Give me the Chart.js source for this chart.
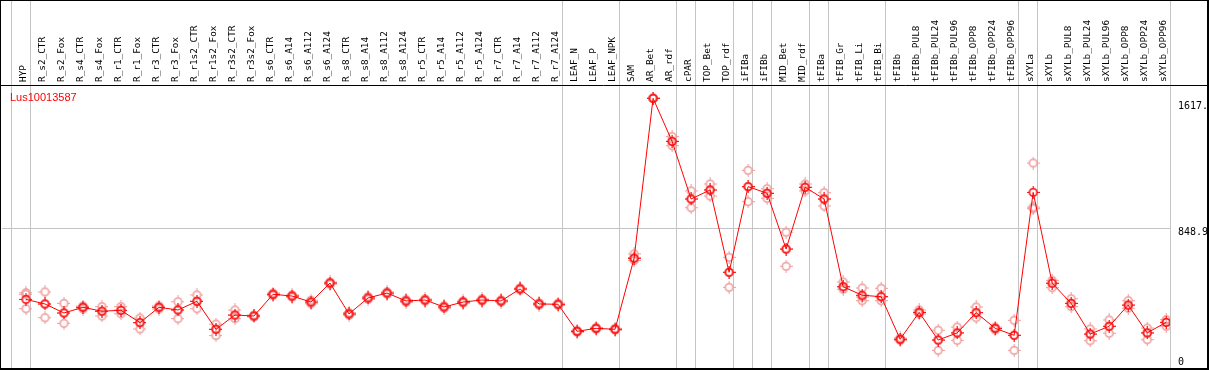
<!DOCTYPE html>
<html>
<head>
<meta charset="utf-8">
<title>Lus10013587</title>
<script src="https://cdn.jsdelivr.net/npm/chart.js@4.4.0/dist/chart.umd.min.js"></script>
<style>
    html, body { margin: 0; padding: 0; background: #fff; }
    canvas { display: block; }
</style>
</head>
<body>
<canvas id="grafica" width="1209" height="370"></canvas>
<script>
const categories = [
    'HYP', 'R_s2_CTR', 'R_s2_Fox', 'R_s4_CTR', 'R_s4_Fox', 'R_r1_CTR', 'R_r1_Fox', 'R_r3_CTR', 'R_r3_Fox',
    'R_r1s2_CTR', 'R_r1s2_Fox', 'R_r3s2_CTR', 'R_r3s2_Fox', 'R_s6_CTR', 'R_s6_A14', 'R_s6_A112', 'R_s6_A124',
    'R_s8_CTR', 'R_s8_A14', 'R_s8_A112', 'R_s8_A124', 'R_r5_CTR', 'R_r5_A14', 'R_r5_A112', 'R_r5_A124',
    'R_r7_CTR', 'R_r7_A14', 'R_r7_A112', 'R_r7_A124', 'LEAF_N', 'LEAF_P', 'LEAF_NPK', 'SAM', 'AR_Bet', 'AR_rdf',
    'cPAR', 'TOP_Bet', 'TOP_rdf', 'iFIBa', 'iFIBb', 'MID_Bet', 'MID_rdf', 'tFIBa', 'tFIB_Gr', 'tFIB_Li', 'tFIB_Bi',
    'tFIBb', 'tFIBb_PUL8', 'tFIBb_PUL24', 'tFIBb_PUL96', 'tFIBb_OPP8', 'tFIBb_OPP24', 'tFIBb_OPP96',
    'sXYLa', 'sXYLb', 'sXYLb_PUL8', 'sXYLb_PUL24', 'sXYLb_PUL96', 'sXYLb_OPP8', 'sXYLb_OPP24', 'sXYLb_OPP96'
];

// mean expression (line) and the three replicates (pale circles)
const meanValues = [
    400, 371, 314, 350, 325, 331, 253, 350, 333, 388, 211, 301, 295, 432, 421, 383, 503,
    308, 409, 440, 390, 396, 352, 383, 396, 390, 466, 371, 369, 198, 217, 211, 659, 1670, 1398,
    1034, 1091, 571, 1112, 1070, 718, 1108, 1034, 480, 426, 417,
    148, 318, 143, 188, 316, 217, 173,
    1076, 502, 375, 181, 230, 364, 188, 255
];
const rep1 = [
    442, 447, 375, 358, 354, 354, 282, 358, 385, 428, 244, 333, 301, 440, 428, 395, 510,
    316, 418, 447, 398, 403, 360, 390, 403, 397, 472, 378, 376, 204, 223, 217, 687, 1670, 1428,
    1085, 1129, 666, 1215, 1099, 824, 1129, 1074, 510, 472, 470,
    156, 333, 205, 225, 352, 225, 268,
    1261, 520, 404, 213, 270, 392, 219, 272
];
const rep2 = [
    432, 371, 314, 350, 325, 331, 253, 350, 333, 388, 211, 301, 295, 432, 421, 383, 503,
    308, 409, 440, 390, 396, 352, 383, 396, 390, 466, 371, 369, 198, 217, 211, 665, 1670, 1398,
    1034, 1091, 571, 1112, 1070, 718, 1108, 1034, 480, 415, 417,
    148, 318, 143, 188, 316, 217, 173,
    983, 502, 375, 181, 230, 364, 188, 255
];
const rep3 = [
    341, 284, 249, 339, 295, 309, 213, 339, 278, 341, 171, 278, 289, 424, 414, 372, 496,
    300, 400, 433, 382, 389, 344, 376, 389, 383, 460, 364, 362, 192, 211, 205, 646, 1670, 1371,
    979, 1053, 476, 1017, 1038, 609, 1085, 990, 464, 392, 392,
    140, 308, 78, 141, 284, 207, 78,
    973, 474, 354, 139, 186, 344, 145, 230
];

// grey separators are drawn just after these category indexes
const groupEnds = [-1, 0, 28, 31, 34, 35, 37, 38, 39, 41, 42, 45, 52, 53, 60];

const yTickValues = [0, 848.9, 1617];
const yTickLabels = ['0', '848.9', '1617.'];
const title = 'Lus10013587';

document.addEventListener('DOMContentLoaded', () => {

    function makeMarker(color) {
        const c = document.createElement('canvas');
        c.width = 13;
        c.height = 13;
        const g = c.getContext('2d');
        g.strokeStyle = color;
        g.lineWidth = 1.5;
        g.beginPath();
        g.arc(6.5, 6.5, 3.8, 0, Math.PI * 2);
        g.stroke();
        g.lineWidth = 1;
        g.beginPath();
        g.moveTo(6.5, 0); g.lineTo(6.5, 2);
        g.moveTo(6.5, 11); g.lineTo(6.5, 13);
        g.moveTo(0, 6.5); g.lineTo(2, 6.5);
        g.moveTo(11, 6.5); g.lineTo(13, 6.5);
        g.stroke();
        return c;
    }

    // no auto padding around the scales, the frame is fixed
    function noPad(s) {
        s.paddingTop = 0;
        s.paddingBottom = 0;
        s.paddingLeft = 0;
        s.paddingRight = 0;
    }

    const meanPoints = meanValues.map((v, i) => ({ x: i, y: v }));
    const repPoints = [];
    [rep1, rep2, rep3].forEach(rep => {
        rep.forEach((v, i) => repPoints.push({ x: i, y: v }));
    });

    const decor = {
        id: 'decor',
        beforeDatasetsDraw(chart) {
            const ctx = chart.ctx;
            const xs = chart.scales.x;
            const area = chart.chartArea;
            ctx.save();
            ctx.strokeStyle = '#c4c4c4';
            ctx.lineWidth = 1;
            groupEnds.forEach(i => {
                const px = Math.round(xs.getPixelForValue(i + 0.2)) + 0.5;
                ctx.beginPath();
                ctx.moveTo(px, 0);
                ctx.lineTo(px, area.bottom);
                ctx.stroke();
            });
            ctx.restore();
        },
        afterDraw(chart) {
            const ctx = chart.ctx;
            const area = chart.chartArea;
            ctx.save();
            ctx.strokeStyle = '#000';
            ctx.lineWidth = 1;
            ctx.beginPath();
            ctx.moveTo(0, area.top + 0.5);
            ctx.lineTo(chart.width - 2, area.top + 0.5);
            ctx.stroke();
            ctx.lineWidth = 2;
            ctx.strokeRect(0, 0, chart.width - 1, area.bottom + 1);
            ctx.fillStyle = '#ff0000';
            ctx.font = '11px "Liberation Sans"';
            ctx.textBaseline = 'alphabetic';
            ctx.fillText(title, area.left + 8, area.top + 16);
            ctx.restore();
        }
    };

    new Chart(document.getElementById('grafica'), {
        type: 'scatter',
        data: {
            datasets: [{
                data: meanPoints,
                showLine: true,
                borderColor: '#ff0000',
                borderWidth: 1,
                tension: 0,
                pointStyle: makeMarker('#ff0000'),
                pointRadius: 5
            }, {
                data: repPoints,
                showLine: false,
                pointStyle: makeMarker('#ee9a9a'),
                pointRadius: 5
            }]
        },
        options: {
            responsive: false,
            animation: false,
            devicePixelRatio: 1,
            layout: { autoPadding: false, padding: { left: 2, right: 2, top: 0, bottom: 2 } },
            plugins: { legend: { display: false }, tooltip: { enabled: false } },
            scales: {
                x: {
                    type: 'linear',
                    position: 'top',
                    min: -1.26,
                    max: 60.2,
                    afterBuildTicks: s => { s.ticks = categories.map((c, i) => ({ value: i })); },
                    afterFit: s => { s.height = 85; noPad(s); },
                    grid: { display: false, drawTicks: false },
                    border: { display: false },
                    ticks: {
                        autoSkip: false,
                        minRotation: 90,
                        maxRotation: 90,
                        padding: 3,
                        labelOffset: 9,
                        color: '#000',
                        font: { family: '"DejaVu Sans Mono"', size: 9.4 },
                        callback: v => categories[v]
                    }
                },
                y: {
                    position: 'right',
                    min: -33.5,
                    max: 1754,
                    afterBuildTicks: s => { s.ticks = yTickValues.map(v => ({ value: v })); },
                    afterFit: s => { s.width = 37; noPad(s); },
                    grid: {
                        drawTicks: false,
                        color: c => (c.tick && c.tick.value === 848.9) ? '#c4c4c4' : 'rgba(0,0,0,0)'
                    },
                    border: { display: false },
                    ticks: {
                        padding: 8,
                        color: '#000',
                        // the middle label sits just under its grid line
                        font: c => ({ family: '"DejaVu Sans Mono"', size: 10, lineHeight: c.index === 1 ? 0.8 : 1.2 }),
                        callback: (v, i) => (i === 1 ? ['', yTickLabels[i]] : yTickLabels[i])
                    }
                }
            }
        },
        plugins: [decor]
    });
});
</script>
</body>
</html>
